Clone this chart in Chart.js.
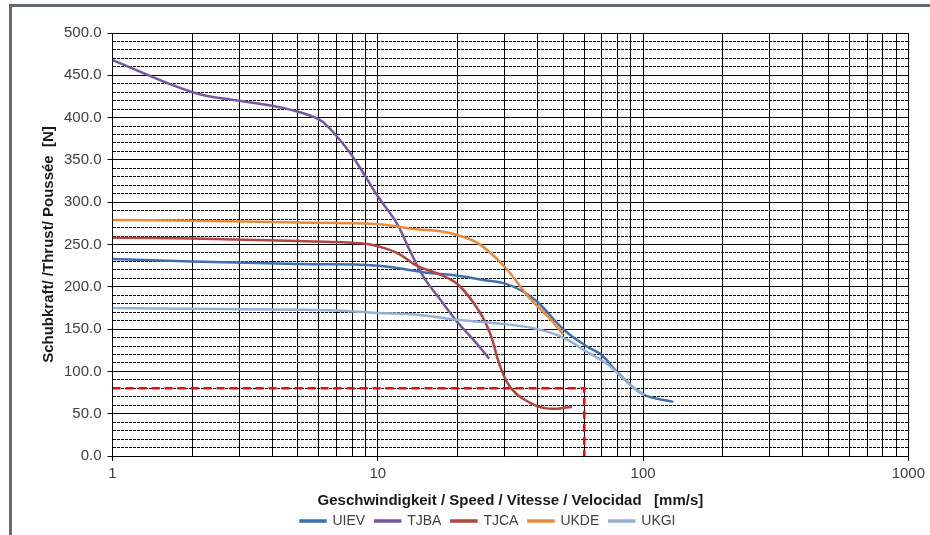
<!DOCTYPE html>
<html>
<head>
<meta charset="utf-8">
<title>Schubkraft / Geschwindigkeit</title>
<script src="https://cdn.jsdelivr.net/npm/chart.js@4.4.0/dist/chart.umd.min.js"></script>
<style>
  html, body { margin: 0; padding: 0; background: #fff; overflow: hidden; }
  #wrap { width: 930px; height: 535px; }
</style>
</head>
<body>
<div id="wrap"><canvas id="mychart" width="930" height="535"></canvas></div>
<script>
// series values (speed in mm/s, thrust in N)
const uievX = [1, 2, 5, 10, 15, 20, 25, 30, 35, 40, 50, 61, 70, 80, 100, 130];
const uievY = [233, 230, 227, 225, 217, 213, 208, 204, 195, 182, 150, 130, 119, 99, 73, 64];

const tjbaX = [1, 2, 3, 4, 5, 6, 6.5, 7, 8, 9, 10, 11.8, 13.2, 15, 17, 20, 23, 26.3];
const tjbaY = [468, 430, 420, 414, 407, 398, 389, 378, 355, 330, 307, 275, 243, 210, 187, 158, 137, 115];

const tjcaX = [1, 2, 5, 7, 9, 10, 12, 14, 17, 20, 24, 26.5, 29, 32, 38, 44, 54];
const tjcaY = [258, 257, 254, 253, 251, 248, 239, 225, 215, 203, 172, 145, 105, 79, 62, 56, 58];

const ukdeX = [1, 2, 5, 10, 14, 17, 20, 24, 30, 37, 44, 50];
const ukdeY = [279, 278, 276, 274, 268, 266, 261, 251, 224, 188, 164, 144];

const ukgiX = [1, 2, 5, 7, 10, 14, 20, 30, 40, 50, 60, 73, 80, 95, 101];
const ukgiY = [175, 174, 173, 172, 169, 167, 161, 156, 150, 140, 125, 109, 98, 77, 72];

// red dashed limit (80 N up to 60 mm/s)
const limitX = [1, 60, 60];
const limitY = [80, 80, 0];

const seriesNames = ['UIEV', 'TJBA', 'TJCA', 'UKDE', 'UKGI'];
const seriesColors = ['#3f6fae', '#7658a2', '#b3443f', '#ea8a3b', '#95b0d8'];

// grid / tick labels
const xGridValues = [1, 2, 3, 4, 5, 6, 7, 8, 9,
                     10, 20, 30, 40, 50, 60, 70, 80, 90,
                     100, 200, 300, 400, 500, 600, 700, 800, 900, 1000];
const xTickLabels = [1, 10, 100, 1000];
const yTickLabels = [0, 50, 100, 150, 200, 250, 300, 350, 400, 450, 500];

function toPoints(xs, ys) {
    return xs.map((x, i) => ({ x: x, y: ys[i] }));
}

const seriesData = [
    toPoints(uievX, uievY),
    toPoints(tjbaX, tjbaY),
    toPoints(tjcaX, tjcaY),
    toPoints(ukdeX, ukdeY),
    toPoints(ukgiX, ukgiY)
];

const datasets = seriesNames.map((name, i) => ({
    label: name,
    data: seriesData[i],
    borderColor: seriesColors[i],
    backgroundColor: seriesColors[i],
    borderWidth: 2.5,
    pointRadius: 0,
    tension: 0.4,
    order: 5 - i   // later series drawn on top, like the original
}));

datasets.push({
    label: 'limit',
    data: toPoints(limitX, limitY),
    borderColor: '#ff0000',
    backgroundColor: '#ff0000',
    borderWidth: 2.5,
    borderDash: [8, 5],
    pointRadius: 0,
    tension: 0,
    order: 10
});

// grey frame round the whole chart
const framePlugin = {
    id: 'frame',
    beforeDraw(chart) {
        const c = chart.ctx;
        c.save();
        c.fillStyle = '#ffffff';
        c.fillRect(0, 0, chart.width, chart.height);
        c.fillStyle = '#626a74';
        c.fillRect(9, 4, 3, chart.height);
        c.fillRect(9, 4, chart.width, 3);
        c.restore();
    }
};

// the original legend sits a bit right of the canvas centre
const legendShift = {
    id: 'legendShift',
    afterLayout(chart) {
        chart.legend.left += 12;
        chart.legend.right += 12;
    }
};

Chart.defaults.font.family = "'Liberation Sans', Arial, sans-serif";
Chart.defaults.font.size = 15;
Chart.defaults.color = '#404040';

const ctx = document.getElementById('mychart').getContext('2d');
const myChart = new Chart(ctx, {
    type: 'line',
    data: { datasets: datasets },
    plugins: [framePlugin, legendShift],
    options: {
        responsive: false,
        animation: false,
        devicePixelRatio: 1,
        layout: {
            padding: { left: 40, right: 18, top: 33, bottom: -3 }
        },
        plugins: {
            tooltip: { enabled: false },
            legend: {
                position: 'bottom',
                labels: {
                    boxWidth: 25,
                    boxHeight: 1,
                    padding: 10,
                    color: '#404040',
                    font: { size: 14 },
                    filter: (item) => item.text !== 'limit',
                    sort: (a, b) => a.datasetIndex - b.datasetIndex
                }
            }
        },
        scales: {
            x: {
                type: 'logarithmic',
                min: 1,
                max: 1000,
                afterBuildTicks: (scale) => {
                    scale.ticks = xGridValues.map(v => ({ value: v }));
                },
                ticks: {
                    autoSkip: false,
                    maxRotation: 0,
                    padding: 5,
                    color: '#404040',
                    font: { size: 15, lineHeight: 1 },
                    callback: (value) => xTickLabels.includes(value) ? String(value) : ''
                },
                grid: {
                    color: '#000000',
                    lineWidth: 1,
                    tickLength: 5,
                    tickColor: (c) => xTickLabels.includes(c.tick && c.tick.value) ? '#000000' : 'rgba(0,0,0,0)'
                },
                border: { color: '#000000' },
                title: {
                    display: true,
                    text: 'Geschwindigkeit / Speed / Vitesse / Velocidad   [mm/s]',
                    color: '#1a1a1a',
                    font: { size: 15, weight: 'bold', lineHeight: 1 },
                    padding: { top: 7, bottom: -4 }
                }
            },
            y: {
                min: 0,
                max: 500,
                ticks: {
                    stepSize: 10,
                    autoSkip: false,
                    padding: 6,
                    color: '#404040',
                    font: { size: 15 },
                    callback: (value) => yTickLabels.includes(value) ? value.toFixed(1) : ''
                },
                grid: {
                    color: '#000000',
                    lineWidth: 1,
                    tickLength: 5,
                    tickColor: (c) => yTickLabels.includes(c.tick && c.tick.value) ? '#000000' : 'rgba(0,0,0,0)'
                },
                border: {
                    color: '#000000',
                    dash: (c) => (c.tick && yTickLabels.includes(c.tick.value)) ? [] : [3, 1]
                },
                title: {
                    display: true,
                    text: 'Schubkraft/ /Thrust/ Poussée  [N]',
                    color: '#1a1a1a',
                    font: { size: 15, weight: 'bold' },
                    padding: { top: 0, bottom: 0 }
                }
            }
        }
    }
});
</script>
</body>
</html>
